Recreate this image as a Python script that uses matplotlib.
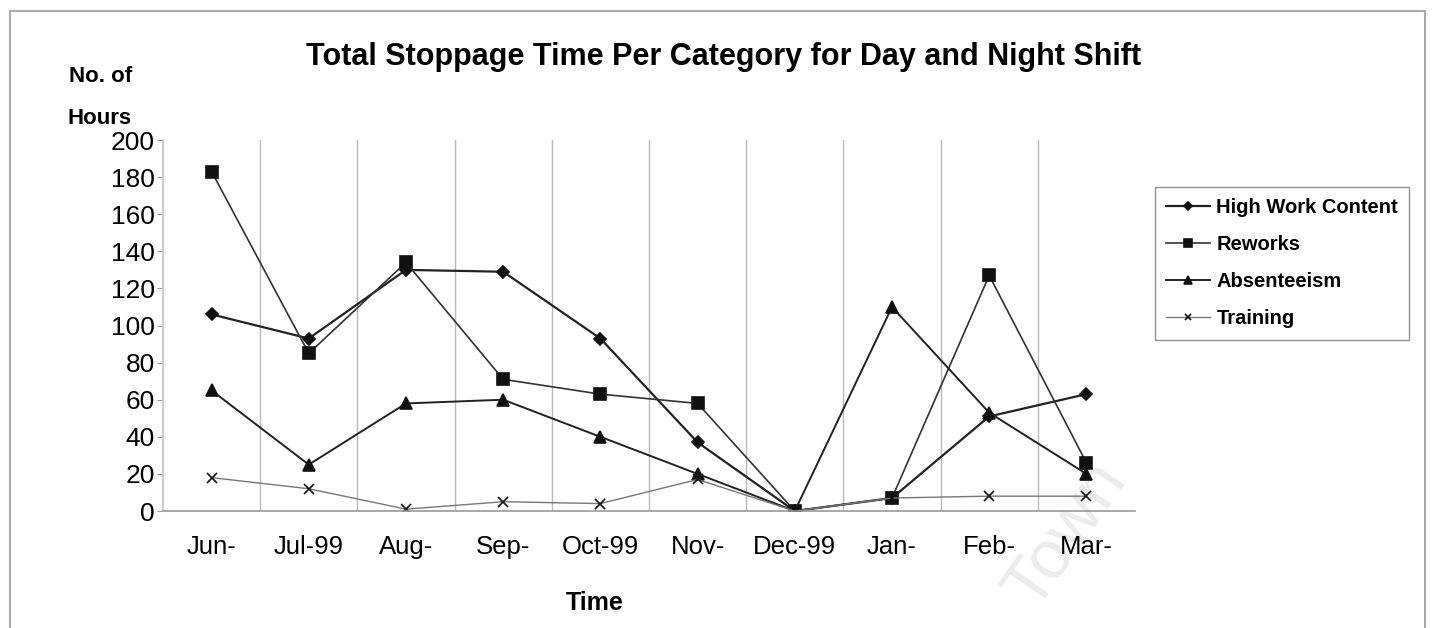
import matplotlib.pyplot as plt
from matplotlib.patches import Rectangle
import numpy as np

plt.rcParams['font.family'] = ['Liberation Sans', 'DejaVu Sans']

# --- Data --------------------------------------------------------------------
months = ['Jun-', 'Jul-99', 'Aug-', 'Sep-', 'Oct-99', 'Nov-', 'Dec-99', 'Jan-',
          'Feb-', 'Mar-']
high_work = [106, 93, 130, 129, 93, 37, 0, 7, 51, 63]
reworks = [183, 85, 134, 71, 63, 58, 0, 7, 127, 26]
absenteeism = [65, 25, 58, 60, 40, 20, 0, 110, 53, 20]
training = [18, 12, 1, 5, 4, 17, 0, 7, 8, 8]

# --- Plot --------------------------------------------------------------------
fig = plt.figure(figsize=(14.32, 6.28), dpi=100)
ax = fig.add_axes([0.1138, 0.1863, 0.6788, 0.5907])
ax.patch.set_alpha(0)

x = np.arange(len(months))
lDraw = [(high_work, 'High Work Content', 'D', 6, '#222222', 1.6),
         (reworks, 'Reworks', 's', 8, '#333333', 1.2),
         (absenteeism, 'Absenteeism', '^', 8, '#222222', 1.4),
         (training, 'Training', 'x', 7, '#777777', 1.0)]
for vals, lbl, mk, ms, col, lw in lDraw:
    ax.plot(x, vals, marker=mk, ms=ms, mec='#111111', mfc='#111111', mew=1.2,
            color=col, lw=lw, label=lbl)

ax.set_xlim(-0.5, len(months) - 0.5)
ax.set_ylim(0, 200)
ax.set_yticks(np.arange(0, 201, 20))
ax.tick_params(axis='y', labelsize=19, length=4, color='#999999', pad=2)
ax.set_xticks(x)
ax.set_xticklabels(months)
ax.tick_params(axis='x', which='major', labelsize=18.5, length=0, pad=17)
ax.set_xticks(np.arange(0.5, len(months) - 0.5, 1), minor=True)
ax.tick_params(axis='x', which='minor', length=0)
ax.grid(axis='x', which='minor', color='#bbbbbb', lw=1.0)

for s in ['top', 'right']:
    ax.spines[s].set_visible(False)
ax.spines['left'].set_color('#cccccc')
ax.spines['bottom'].set_color('#999999')
ax.spines['left'].set_linewidth(1.5)
ax.spines['bottom'].set_linewidth(1.2)

fig.text(0.415, 0.040, 'Time', ha='center', va='center', fontsize=18,
         fontweight='bold')
fig.text(0.505, 0.910, 'Total Stoppage Time Per Category for Day and Night Shift',
         ha='center', va='center', fontsize=22, fontweight='bold')
fig.text(0.048, 0.878, 'No. of', ha='left', va='center', fontsize=16,
         fontweight='bold')
fig.text(0.047, 0.812, 'Hours', ha='left', va='center', fontsize=16,
         fontweight='bold')

leg = fig.legend(loc='upper left', bbox_to_anchor=(0.8066, 0.7022),
                 fontsize=14.5, frameon=True, fancybox=False,
                 handlelength=2.2, handletextpad=0.3, borderpad=0.55,
                 labelspacing=0.9, borderaxespad=0, markerscale=0.7)
leg.get_frame().set_edgecolor('#777777')
leg.get_frame().set_linewidth(1.0)
for t in leg.get_texts():
    t.set_fontweight('bold')

# chart border and faint stamp
fig.patches.append(Rectangle((0.007, -0.05), 0.988, 1.033,
                             transform=fig.transFigure, fill=False,
                             ec='#aaaaaa', lw=1.5))
fig.text(0.744, 0.148, 'Town', rotation=55, fontsize=50, color='#ececec',
         ha='center', va='center', zorder=-1)

plt.savefig('out.png', dpi=100)
plt.close()
